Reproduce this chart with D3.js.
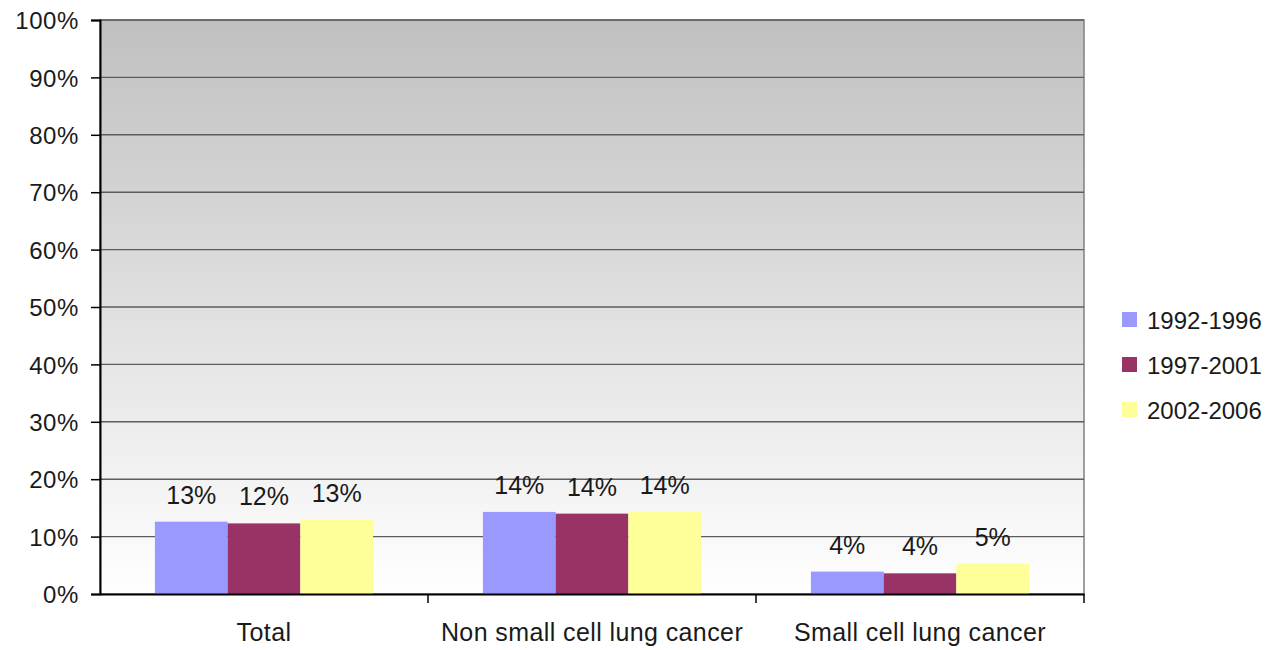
<!DOCTYPE html>
<html>
<head>
<meta charset="utf-8">
<script src="https://cdn.jsdelivr.net/npm/d3@7"></script>
<style>
  html, body { margin: 0; padding: 0; background: #ffffff; }
  svg { display: block; font-family: "Liberation Sans", Arial, sans-serif; }
</style>
</head>
<body>
<svg id="chart" width="1270" height="650"></svg>
<script>
// Five-year relative survival by lung cancer type and diagnosis period
const categories = ["Total", "Non small cell lung cancer", "Small cell lung cancer"];
const periods = ["1992-1996", "1997-2001", "2002-2006"];
const survival1992 = [0.126, 0.143, 0.039];
const survival1997 = [0.123, 0.140, 0.036];
const survival2002 = [0.129, 0.143, 0.053];
const periodColors = ["#9999ff", "#993366", "#ffff99"];
const yTicks = [0, 0.1, 0.2, 0.3, 0.4, 0.5, 0.6, 0.7, 0.8, 0.9, 1.0];

const seriesValues = [survival1992, survival1997, survival2002];
const rows = categories.map((c, i) => ({
  category: c,
  values: periods.map((p, j) => ({ period: p, value: seriesValues[j][i], color: periodColors[j] }))
}));

const svg = d3.select("#chart");
const plot = { left: 100, right: 1084, top: 20, bottom: 594 };

const x0 = d3.scaleBand().domain(categories).range([plot.left, plot.right]).padding(0);
const x1 = d3.scaleBand().domain(periods).range([0, x0.bandwidth()]).paddingInner(0).paddingOuter(0.755);
const y = d3.scaleLinear().domain([0, 1]).range([plot.bottom, plot.top]);

// plot area background: grey fading to white
const defs = svg.append("defs");
const grad = defs.append("linearGradient").attr("id", "plotBg")
  .attr("x1", 0).attr("y1", 0).attr("x2", 0).attr("y2", 1);
grad.append("stop").attr("offset", "0%").attr("stop-color", "#c0c0c0");
grad.append("stop").attr("offset", "100%").attr("stop-color", "#ffffff");

svg.append("rect")
  .attr("x", plot.left).attr("y", plot.top)
  .attr("width", plot.right - plot.left).attr("height", plot.bottom - plot.top)
  .attr("fill", "url(#plotBg)")
  .attr("stroke", "#808080").attr("stroke-width", 1.5);

// horizontal gridlines
svg.append("g").selectAll("line")
  .data(yTicks.filter(t => t > 0))
  .join("line")
  .attr("x1", plot.left).attr("x2", plot.right)
  .attr("y1", d => y(d)).attr("y2", d => y(d))
  .attr("stroke", "#5c5c5c").attr("stroke-width", 1.4);

// bars
const groups = svg.append("g").selectAll("g")
  .data(rows).join("g")
  .attr("transform", d => `translate(${x0(d.category)},0)`);

groups.selectAll("rect")
  .data(d => d.values).join("rect")
  .attr("x", d => x1(d.period))
  .attr("width", x1.bandwidth())
  .attr("y", d => y(d.value))
  .attr("height", d => y(0) - y(d.value))
  .attr("fill", d => d.color);

// value labels
groups.selectAll("text")
  .data(d => d.values).join("text")
  .attr("x", d => x1(d.period) + x1.bandwidth() / 2)
  .attr("y", d => y(d.value) - 18)
  .attr("text-anchor", "middle")
  .attr("font-size", 25)
  .attr("fill", "#1a1a1a")
  .text(d => d3.format(".0%")(d.value));

// y axis
const yAxis = d3.axisLeft(y).tickValues(yTicks).tickFormat(d3.format(".0%")).tickSizeOuter(0).tickSize(9).tickPadding(12);
const gy = svg.append("g").attr("transform", `translate(${plot.left},0)`).call(yAxis);
gy.select(".domain").attr("stroke", "#000").attr("stroke-width", 2);
gy.selectAll(".tick line").attr("stroke", "#000").attr("stroke-width", 1.5);
gy.selectAll(".tick text")
  .attr("font-size", 24).attr("letter-spacing", 0.6)
  .attr("font-family", "Liberation Sans, Arial, sans-serif")
  .attr("fill", "#1a1a1a").attr("dy", "0.36em");

// x axis
const xAxis = d3.axisBottom(x0).tickSize(0).tickPadding(29).tickSizeOuter(0);
const gx = svg.append("g").attr("transform", `translate(0,${plot.bottom})`).call(xAxis);
gx.select(".domain").attr("stroke", "#000").attr("stroke-width", 2);
gx.selectAll(".tick text")
  .attr("font-size", 25).attr("letter-spacing", 0.4)
  .attr("font-family", "Liberation Sans, Arial, sans-serif")
  .attr("fill", "#1a1a1a");

// category separators on x axis
const sepPositions = categories.map(c => x0(c)).concat([plot.right]).slice(1);
gx.append("g").selectAll("line")
  .data(sepPositions).join("line")
  .attr("x1", d => d).attr("x2", d => d)
  .attr("y1", 0).attr("y2", 9)
  .attr("stroke", "#000").attr("stroke-width", 1.5);

// legend
const legend = svg.append("g").attr("transform", "translate(1122,320)");
const items = legend.selectAll("g")
  .data(periods).join("g")
  .attr("transform", (d, i) => `translate(0,${i * 45})`);
items.append("rect")
  .attr("x", 0).attr("y", -8).attr("width", 15).attr("height", 15)
  .attr("fill", (d, i) => periodColors[i]);
items.append("text")
  .attr("x", 25).attr("y", 0).attr("dy", "0.36em")
  .attr("font-size", 24).attr("fill", "#1a1a1a")
  .text(d => d);
</script>
</body>
</html>
